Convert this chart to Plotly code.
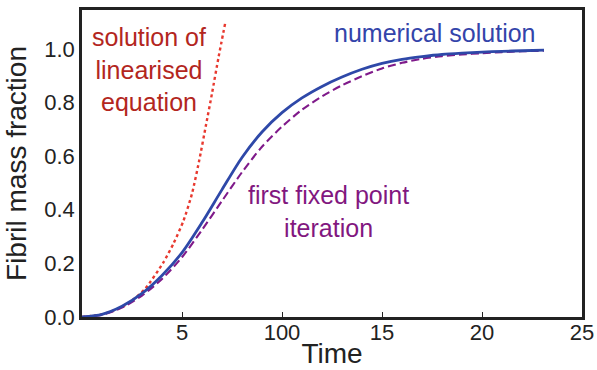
import plotly.graph_objects as go

# Numerical solution (blue, solid)
t_num = [0, 1, 2, 3, 4, 5, 6, 7, 8, 9, 10, 11, 12, 13, 14, 15, 16, 17, 18, 19, 20, 21, 22, 23.1]
y_num = [0, 0.01, 0.04, 0.088, 0.155, 0.24, 0.352, 0.475, 0.595, 0.69, 0.762, 0.817, 0.86, 0.895,
         0.924, 0.946, 0.961, 0.971, 0.979, 0.984, 0.988, 0.991, 0.993, 0.995]

# First fixed point iteration (purple, dashed)
t_fp = [0, 1, 2, 3, 4, 5, 6, 7, 8, 9, 10, 11, 12, 13, 14, 15, 16, 17, 18, 19, 20, 21, 22, 23.1]
y_fp = [0, 0.008, 0.035, 0.08, 0.142, 0.223, 0.325, 0.433, 0.54, 0.635, 0.71, 0.773, 0.823, 0.864,
        0.898, 0.927, 0.948, 0.963, 0.973, 0.979, 0.984, 0.988, 0.991, 0.993]

# Solution of linearised equation (red, dotted)
t_lin = [0, 1, 2, 2.58, 3.17, 4.08, 4.58, 5.08, 5.5, 5.85, 6.21, 6.5, 6.83, 7.17]
y_lin = [0, 0.01, 0.037, 0.066, 0.106, 0.205, 0.275, 0.36, 0.46, 0.58, 0.72, 0.834, 0.97, 1.10]

x_tickvals = [5, 10, 15, 20, 25]
x_ticktext = ["5", "100", "15", "20", "25"]
y_tickvals = [0, 0.2, 0.4, 0.6, 0.8, 1.0]
y_ticktext = ["0.0", "0.2", "0.4", "0.6", "0.8", "1.0"]

FONT = "Liberation Sans, Arial, sans-serif"

fig = go.Figure()
fig.add_trace(go.Scatter(x=t_lin, y=y_lin, mode="lines",
                         line=dict(color="#e8392f", width=2.4, dash="3px,3px", shape="spline", smoothing=0.6),
                         showlegend=False, hoverinfo="skip"))
fig.add_trace(go.Scatter(x=t_fp, y=y_fp, mode="lines",
                         line=dict(color="#7f1a8a", width=2.1, dash="8px,4px", shape="spline", smoothing=0.8),
                         showlegend=False, hoverinfo="skip"))
fig.add_trace(go.Scatter(x=t_num, y=y_num, mode="lines",
                         line=dict(color="#2e48a8", width=2.8, shape="spline", smoothing=0.8),
                         showlegend=False, hoverinfo="skip"))

annots = [
    ("solution of<br>linearised<br>equation", 3.37, 0.924, "#b3261e"),
    ("numerical solution", 17.64, 1.059, "#3344aa"),
    ("first fixed point<br>iteration", 12.3, 0.392, "#82177f"),
]
for txt, x, y, col in annots:
    fig.add_annotation(x=x, y=y, xref="x", yref="y", text=txt, showarrow=False,
                       font=dict(family=FONT, size=25, color=col), align="center")

fig.update_layout(
    width=597, height=370,
    margin=dict(l=82, r=15, t=10, b=53),
    paper_bgcolor="white", plot_bgcolor="white",
    font=dict(family=FONT, color="#222222"),
    xaxis=dict(range=[0, 25], tickvals=x_tickvals, ticktext=x_ticktext, ticks="inside", ticklen=5,
               tickwidth=1.2, tickcolor="#222222", showgrid=False, zeroline=False,
               showline=True, linewidth=2.5, linecolor="#222222", mirror=True, automargin=False,
               ticklabelstandoff=-6,
               tickfont=dict(size=22), title=dict(text="Time", font=dict(size=28), standoff=0)),
    yaxis=dict(range=[0, 1.145], tickvals=y_tickvals, ticktext=y_ticktext, ticks="", showgrid=False,
               zeroline=False, showline=True, linewidth=2.5, linecolor="#222222", mirror=True,
               automargin=False,
               tickfont=dict(size=22), title=dict(text="Fibril mass fraction", font=dict(size=28), standoff=10)),
)

fig.write_html("out.html")
